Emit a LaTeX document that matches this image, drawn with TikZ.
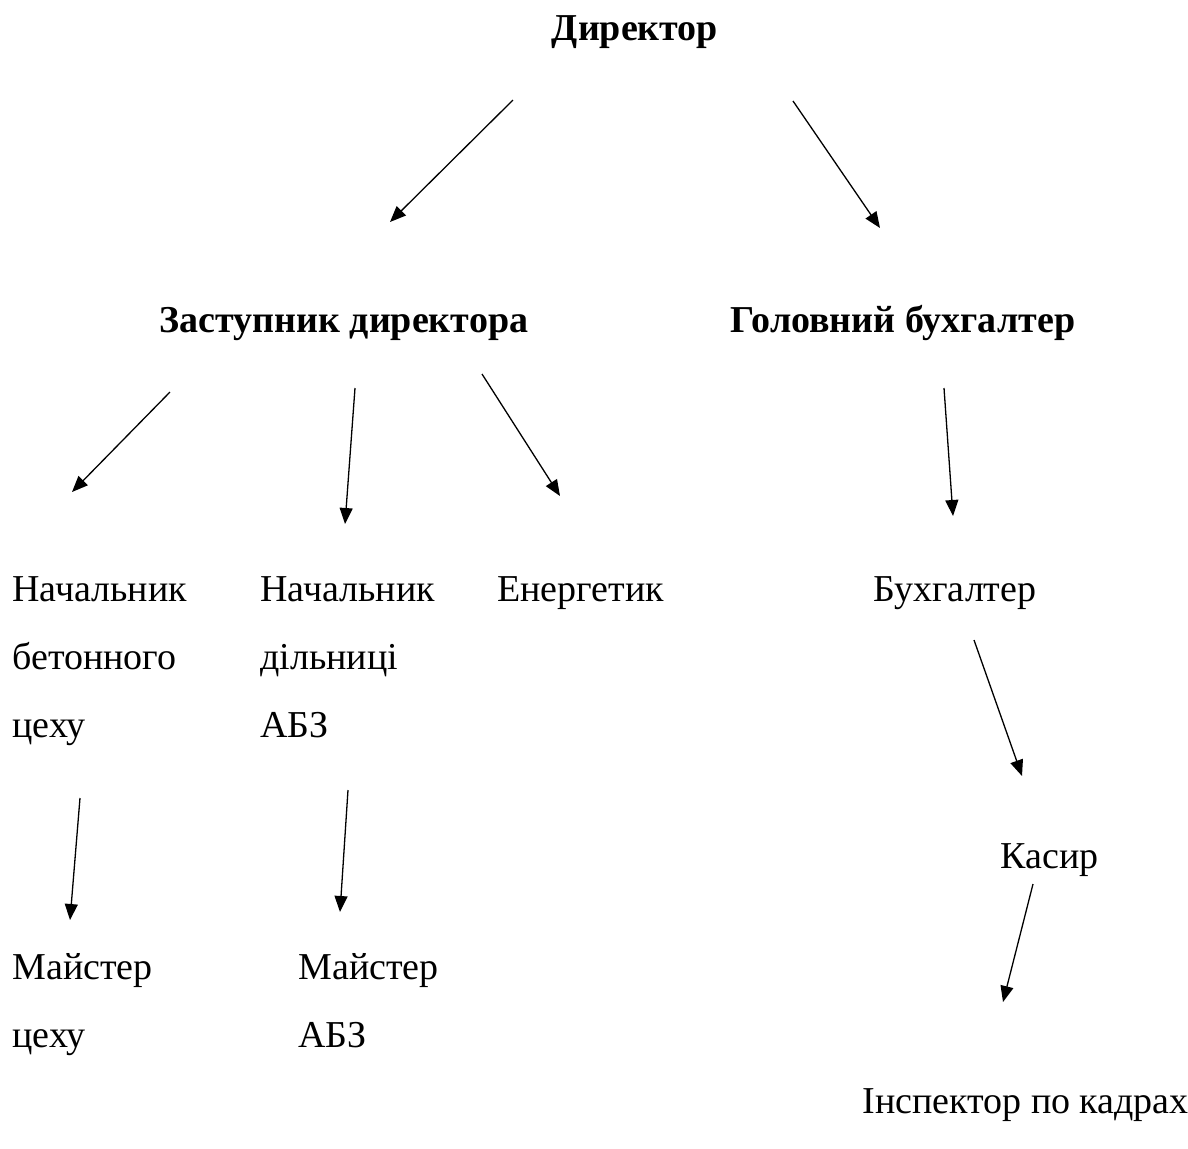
\documentclass[tikz,border=0pt]{standalone}
\usepackage{fontspec}
\setmainfont{Liberation Serif}
\usetikzlibrary{arrows.meta}
\begin{document}
\begin{tikzpicture}[x=0.5pt, y=-0.5pt,
		every node/.style={inner sep=0pt, font=\fontsize{19}{34}\selectfont},
		boss/.style={anchor=base, font=\fontsize{19}{34}\selectfont\bfseries},
		post/.style={anchor=base west, align=left},
		link/.style={-{Triangle[length=8pt,width=6.5pt]}, line width=0.65pt}
		]
	\useasboundingbox (0,0) rectangle (1188,1148);
	% heads
	\node [boss] (dir) at (635,40) {Директор};
	\node [boss] (zast) at (344,332) {Заступник директора};
	\node [boss] (gbuh) at (903,332) {Головний бухгалтер};
	% staff (base = last line)
	\node [post] (nbet) at (12,737) {Начальник\\бетонного\\цеху};
	\node [post] (ndil) at (260,737) {Начальник\\дільниці\\АБЗ};
	\node [post] (energ) at (497,601) {Енергетик};
	\node [post] (buh) at (873,601) {Бухгалтер};
	\node [post] (kas) at (1000,868) {Касир};
	\node [post] (mceh) at (12,1047) {Майстер\\цеху};
	\node [post] (mabz) at (298,1047) {Майстер\\АБЗ};
	\node [post] (insp) at (862,1113) {Інспектор по кадрах};
	% arrow ends
	\coordinate (a1) at (513,100);  \coordinate (b1) at (390,222);
	\coordinate (a2) at (793,101);  \coordinate (b2) at (880,228);
	\coordinate (a3) at (170,392);  \coordinate (b3) at (72,492);
	\coordinate (a4) at (355,388);  \coordinate (b4) at (345,524);
	\coordinate (a5) at (482,374);  \coordinate (b5) at (560,496);
	\coordinate (a6) at (944,388);  \coordinate (b6) at (953,516);
	\coordinate (a7) at (974,640);  \coordinate (b7) at (1022,776);
	\coordinate (a8) at (80,798);   \coordinate (b8) at (70,920);
	\coordinate (a9) at (348,790);  \coordinate (b9) at (340,912);
	\coordinate (a10) at (1033,884); \coordinate (b10) at (1003,1002);
	\draw [link] (a1) -- (b1);
	\draw [link] (a2) -- (b2);
	\draw [link] (a3) -- (b3);
	\draw [link] (a4) -- (b4);
	\draw [link] (a5) -- (b5);
	\draw [link] (a6) -- (b6);
	\draw [link] (a7) -- (b7);
	\draw [link] (a8) -- (b8);
	\draw [link] (a9) -- (b9);
	\draw [link] (a10) -- (b10);
\end{tikzpicture}
\end{document}
